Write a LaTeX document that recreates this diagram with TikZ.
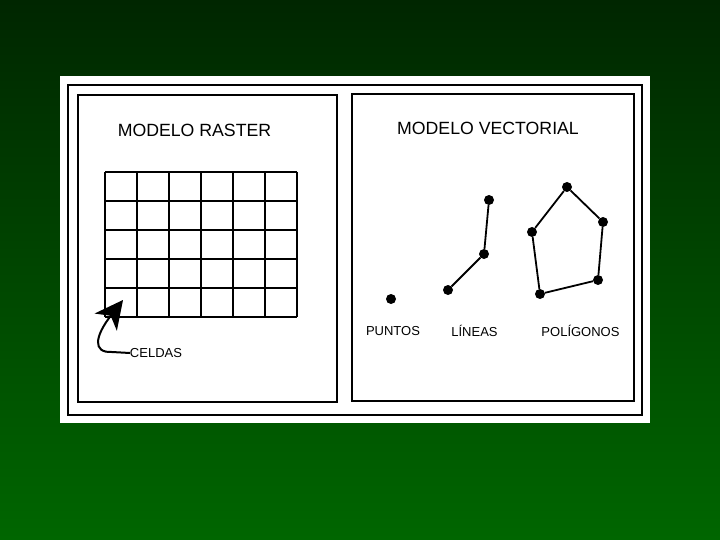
\documentclass[tikz,border=0pt]{standalone}
\usepackage{fontspec}
\setmainfont{Liberation Sans}
\usetikzlibrary{arrows.meta}

\begin{document}
\begin{tikzpicture}
		[x=1pt, y=-1pt,
		frame/.style ={draw=black, line width=1.8pt},
		title/.style ={font=\fontsize{17.7}{20}\selectfont, inner sep=0pt},
		label/.style ={font=\fontsize{13}{15}\selectfont, inner sep=0pt},
		vertex/.style ={circle, fill=black, inner sep=0pt, minimum size=10pt},
		edge/.style ={draw, line width=1.8pt},
		]
		% background and sheet
		\shade[top color={rgb,255:red,0;green,38;blue,0}, bottom color={rgb,255:red,0;green,102;blue,0}]
		(0,0) rectangle (720,540);
		\useasboundingbox (0,0) rectangle (720,540);
		\fill[white] (60,76) rectangle (650,423);

		\draw[frame] (68,85) rectangle (642,415);
		\draw[frame] (78,95) rectangle (337,402);
		\draw[frame] (352,94) rectangle (634,401);

		% raster
		\node[title] (rtitle) at (194.5,130) {MODELO RASTER};
		\foreach \i in {0,...,6}
			\draw[line width=1.8pt] (105+32*\i,172) -- (105+32*\i,317);
		\foreach \j in {0,...,5}
			\draw[line width=1.8pt] (105,172+29*\j) -- (297,172+29*\j);
		\node[label] (celdas) at (156,353) {CELDAS};
		\coordinate (celtip) at (123,300);
		\draw[line width=2pt, -{Stealth[length=28pt, width=28pt, inset=8pt]}]
		(celdas.west) -- (112,352) .. controls (92,353) and (95,336) .. (celtip);

		% vector
		\node[title] (vtitle) at (488,128) {MODELO VECTORIAL};
		\node[vertex] (p1) at (391,299) {};

		\node[vertex] (l1) at (448,290) {};
		\node[vertex] (l2) at (484,254) {};
		\node[vertex] (l3) at (489,200) {};
		\path[edge] (l1) -- (l2) -- (l3);

		\node[vertex] (g1) at (567,187) {};
		\node[vertex] (g2) at (603,222) {};
		\node[vertex] (g3) at (598,280) {};
		\node[vertex] (g4) at (540,294) {};
		\node[vertex] (g5) at (532,232) {};
		\path[edge] (g1) -- (g2) -- (g3) -- (g4) -- (g5) -- (g1);

		\node[label] (puntos) at (393,331) {PUNTOS};
		\node[label] (lineas) at (474.5,331) {LÍNEAS};
		\node[label] (poligonos) at (580.5,331) {POLÍGONOS};
	\end{tikzpicture}
\end{document}
